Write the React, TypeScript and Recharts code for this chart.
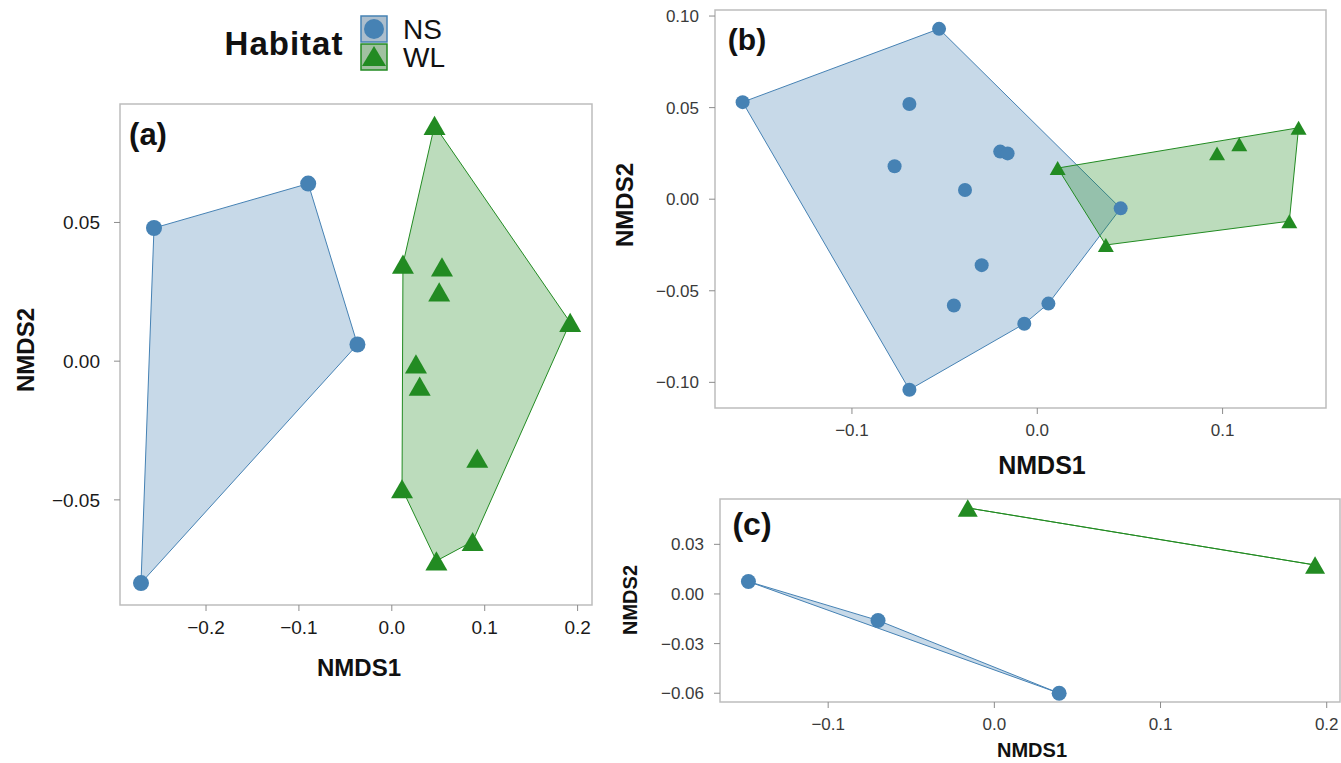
import React from 'react';
import { ScatterChart, Scatter, XAxis, YAxis, ReferenceArea } from 'recharts';

const W = 1341;
const H = 763;

const NS_COLOR = '#4682b4';
const WL_COLOR = '#228b22';
const NS_FILL = 'rgba(70,130,180,0.3)';
const WL_FILL = 'rgba(34,139,34,0.3)';
const FONT = '"Liberation Sans", Arial, Helvetica, sans-serif';

// (a) NMDS scores
const aNsX = [-0.256, -0.09, -0.037, -0.27];
const aNsY = [0.048, 0.064, 0.006, -0.08];
const aWlX = [0.046, 0.012, 0.054, 0.051, 0.192, 0.026, 0.03, 0.092, 0.011, 0.087, 0.048];
const aWlY = [0.085, 0.035, 0.034, 0.025, 0.014, -0.001, -0.009, -0.035, -0.046, -0.065, -0.072];
const aTicksX = [-0.2, -0.1, 0, 0.1, 0.2];
const aTicksY = [-0.05, 0, 0.05];

// (b) NMDS scores
const bNsX = [-0.053, -0.159, -0.069, -0.077, -0.02, -0.016, -0.039, 0.045, -0.03, -0.045, 0.006, -0.007, -0.069];
const bNsY = [0.093, 0.053, 0.052, 0.018, 0.026, 0.025, 0.005, -0.005, -0.036, -0.058, -0.057, -0.068, -0.104];
const bWlX = [0.011, 0.037, 0.097, 0.109, 0.141, 0.136];
const bWlY = [0.017, -0.025, 0.025, 0.03, 0.039, -0.012];
const bTicksX = [-0.1, 0, 0.1];
const bTicksY = [-0.1, -0.05, 0, 0.05, 0.1];

// (c) NMDS scores
const cNsX = [-0.148, -0.07, 0.039];
const cNsY = [0.0075, -0.016, -0.06];
const cWlX = [-0.016, 0.193];
const cWlY = [0.052, 0.0175];
const cTicksX = [-0.1, 0, 0.1, 0.2];
const cTicksY = [-0.06, -0.03, 0, 0.03];

type Pt = { x: number; y: number };

const zip = (xs: number[], ys: number[]): Pt[] => xs.map((x, i) => ({ x, y: ys[i] }));

// monotone chain convex hull
function hull(pts: Pt[]): Pt[] {
  const p = [...pts].sort((a, b) => a.x - b.x || a.y - b.y);
  if (p.length < 3) return p;
  const cross = (o: Pt, a: Pt, b: Pt) => (a.x - o.x) * (b.y - o.y) - (a.y - o.y) * (b.x - o.x);
  const lower: Pt[] = [];
  for (const q of p) {
    while (lower.length >= 2 && cross(lower[lower.length - 2], lower[lower.length - 1], q) <= 0) lower.pop();
    lower.push(q);
  }
  const upper: Pt[] = [];
  for (let i = p.length - 1; i >= 0; i--) {
    const q = p[i];
    while (upper.length >= 2 && cross(upper[upper.length - 2], upper[upper.length - 1], q) <= 0) upper.pop();
    upper.push(q);
  }
  return lower.slice(0, -1).concat(upper.slice(0, -1));
}

const fmt = (digits: number) => (v: number) => (v < 0 ? '\u2212' : '') + Math.abs(v).toFixed(digits);

const Blank = () => <g />;

const dot = (r: number) => (props: any) => <circle cx={props.cx} cy={props.cy} r={r} fill={NS_COLOR} />;

const tri = (w: number) => (props: any) => {
  const { cx, cy } = props;
  const h = w * 0.87;
  const pts = `${cx},${cy - h / 2} ${cx - w / 2},${cy + h / 2} ${cx + w / 2},${cy + h / 2}`;
  return <polygon points={pts} fill={WL_COLOR} />;
};

interface PanelProps {
  left: number;
  top: number;
  right: number;
  bottom: number;
  xDomain: [number, number];
  yDomain: [number, number];
  xTicks: number[];
  yTicks: number[];
  xDigits: number;
  yDigits: number;
  fontSize: number;
  tickColor: string;
  ns: Pt[];
  wl: Pt[];
  r: number;
  triW: number;
}

const Panel: React.FC<PanelProps> = (p) => {
  const yw = 100;
  const xh = 50;
  const tick = { fill: p.tickColor, fontSize: p.fontSize, fontFamily: FONT };
  return (
    <div style={{ position: 'absolute', left: 0, top: 0 }}>
      <ScatterChart
        width={W}
        height={H}
        margin={{ top: p.top, left: p.left - yw, right: W - p.right, bottom: H - p.bottom - xh }}
      >
        <XAxis
          type="number"
          dataKey="x"
          domain={p.xDomain}
          ticks={p.xTicks}
          interval={0}
          tickFormatter={fmt(p.xDigits)}
          axisLine={false}
          tickLine={{ stroke: '#8c8c8c' }}
          tickSize={6}
          tickMargin={10}
          tick={tick}
          height={xh}
        />
        <YAxis
          type="number"
          dataKey="y"
          domain={p.yDomain}
          ticks={p.yTicks}
          interval={0}
          tickFormatter={fmt(p.yDigits)}
          axisLine={false}
          tickLine={{ stroke: '#8c8c8c' }}
          tickSize={6}
          tickMargin={p.fontSize > 18 ? 14 : 10}
          tick={tick}
          width={yw}
        />
        <ReferenceArea
          x1={p.xDomain[0]}
          x2={p.xDomain[1]}
          y1={p.yDomain[0]}
          y2={p.yDomain[1]}
          fill="none"
          stroke="#bdbdbd"
          strokeWidth={1.5}
          fillOpacity={0}
        />
        <Scatter
          data={hull(p.ns)}
          shape={Blank}
          line={{ stroke: NS_COLOR, strokeWidth: 1, fill: NS_FILL }}
          lineJointType="linearClosed"
          isAnimationActive={false}
        />
        <Scatter
          data={hull(p.wl)}
          shape={Blank}
          line={{ stroke: WL_COLOR, strokeWidth: 1, fill: WL_FILL }}
          lineJointType="linearClosed"
          isAnimationActive={false}
        />
        <Scatter data={p.ns} shape={dot(p.r)} isAnimationActive={false} />
        <Scatter data={p.wl} shape={tri(p.triW)} isAnimationActive={false} />
      </ScatterChart>
    </div>
  );
};

const txt = (x: number, y: number, size: number, bold: boolean, rotate = false): React.CSSProperties => ({
  position: 'absolute',
  left: x,
  top: y,
  transform: `translate(-50%, -50%)${rotate ? ' rotate(-90deg)' : ''}`,
  fontFamily: FONT,
  fontSize: size,
  fontWeight: bold ? 'bold' : 'normal',
  lineHeight: 1,
  whiteSpace: 'nowrap',
  color: '#111',
});

const App: React.FC = () => (
  <div style={{ position: 'absolute', left: 0, top: 0, width: W, height: H, background: '#fff', overflow: 'hidden' }}>
    <Panel
      left={120}
      top={104}
      right={592}
      bottom={605}
      xDomain={[-0.2926, 0.2155]}
      yDomain={[-0.0879, 0.0927]}
      xTicks={aTicksX}
      yTicks={aTicksY}
      xDigits={1}
      yDigits={2}
      fontSize={19}
      tickColor="#1a1a1a"
      ns={zip(aNsX, aNsY)}
      wl={zip(aWlX, aWlY)}
      r={8}
      triW={22}
    />
    <Panel
      left={715}
      top={10}
      right={1326}
      bottom={408}
      xDomain={[-0.1739, 0.1558]}
      yDomain={[-0.114, 0.1033]}
      xTicks={bTicksX}
      yTicks={bTicksY}
      xDigits={1}
      yDigits={2}
      fontSize={17}
      tickColor="#3a3a3a"
      ns={zip(bNsX, bNsY)}
      wl={zip(bWlX, bWlY)}
      r={7}
      triW={16}
    />
    <Panel
      left={720}
      top={499}
      right={1340}
      bottom={702}
      xDomain={[-0.1651, 0.208]}
      yDomain={[-0.0653, 0.0574]}
      xTicks={cTicksX}
      yTicks={cTicksY}
      xDigits={1}
      yDigits={2}
      fontSize={17}
      tickColor="#3a3a3a"
      ns={zip(cNsX, cNsY)}
      wl={zip(cWlX, cWlY)}
      r={7.5}
      triW={20}
    />

    {/* panel tags */}
    <div style={{ ...txt(148, 134, 31, true) }}>(a)</div>
    <div style={{ ...txt(747, 40, 30, true) }}>(b)</div>
    <div style={{ ...txt(752, 524, 32, true) }}>(c)</div>

    {/* axis titles */}
    <div style={txt(359, 668, 24, true)}>NMDS1</div>
    <div style={txt(26, 350, 24, true, true)}>NMDS2</div>
    <div style={txt(1042, 465, 25, true)}>NMDS1</div>
    <div style={txt(625, 205, 24, true, true)}>NMDS2</div>
    <div style={txt(1032, 750, 20, true)}>NMDS1</div>
    <div style={txt(630, 600, 20, true, true)}>NMDS2</div>

    {/* legend */}
    <div style={{ ...txt(284, 43, 33, true), letterSpacing: 1 }}>Habitat</div>
    <svg style={{ position: 'absolute', left: 358, top: 13 }} width={32} height={62}>
      <rect x={3} y={3} width={26} height={26} fill="#d9d9d9" />
      <rect x={3} y={3} width={26} height={26} fill={NS_FILL} stroke={NS_COLOR} strokeWidth={1.5} />
      <circle cx={16} cy={16} r={10} fill={NS_COLOR} />
      <rect x={3} y={31} width={26} height={26} fill="#d9d9d9" />
      <rect x={3} y={31} width={26} height={26} fill={WL_FILL} stroke={WL_COLOR} strokeWidth={1.5} />
      <polygon points="16,33 4,53 28,53" fill={WL_COLOR} />
    </svg>
    <div style={{ ...txt(0, 30, 28, false), left: 403, transform: 'translateY(-50%)' }}>NS</div>
    <div style={{ ...txt(0, 58, 28, false), left: 403, transform: 'translateY(-50%)' }}>WL</div>
  </div>
);

export default App;
